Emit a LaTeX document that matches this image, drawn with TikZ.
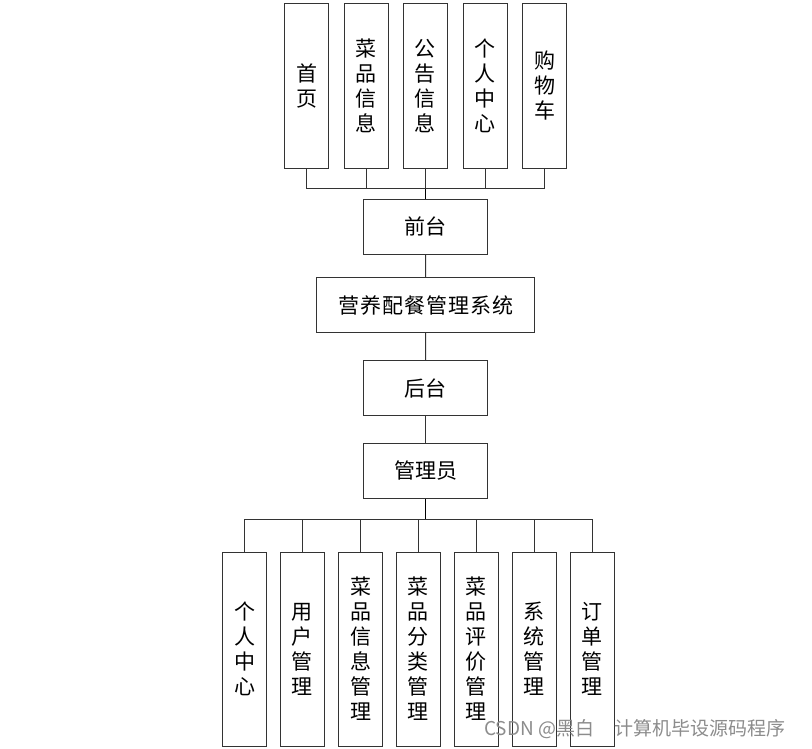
\documentclass[tikz,border=0pt]{standalone}
\usepackage{fontspec}
\setmainfont{Noto Sans CJK SC}
\newfontfamily\cjk{Noto Sans CJK SC}
\begin{document}
\begin{tikzpicture}[x=1pt,y=-1pt,
  box/.style={draw=black!80,line width=1pt,fill=white,inner sep=0pt,align=center,
    font=\cjk\fontsize{21}{25}\selectfont},
  tallbox/.style={box,minimum width=44pt,minimum height=165pt},
  lowbox/.style={box,minimum width=44pt,minimum height=194pt},
  midbox/.style={box,minimum width=124pt,minimum height=55pt},
  link/.style={draw=black!80,line width=1pt},
  hub/.style={draw=black,line width=1.6pt}]
\useasboundingbox (0,0) rectangle (812,748);
% top row
\node[tallbox] (t1) at (306.5,85.7) {首\\页};
\node[tallbox] (t2) at (366.3,85.7) {菜\\品\\信\\息};
\node[tallbox] (t3) at (425.3,85.7) {公\\告\\信\\息};
\node[tallbox] (t4) at (485,85.7) {个\\人\\中\\心};
\node[tallbox] (t5) at (544.5,85.7) {购\\物\\车};
\coordinate (tb) at (425.5,188.7);
% middle column
\node[midbox] (front) at (425.5,226.8) {前台};
\node[box,minimum width=218pt,minimum height=55pt] (sys) at (425.8,305.2)
  {\addfontfeature{LetterSpace=5}营养配餐管理系统};
\node[midbox] (back) at (425.5,388.2) {后台};
\node[midbox] (admin) at (425.5,470.8) {管理员};
\coordinate (bb) at (425.5,519);
% bottom row
\node[lowbox] (b1) at (244.7,649) {个\\人\\中\\心};
\node[lowbox] (b2) at (302.3,649) {用\\户\\管\\理};
\node[lowbox] (b3) at (360.5,649) {菜\\品\\信\\息\\管\\理};
\node[lowbox] (b4) at (418.3,649) {菜\\品\\分\\类\\管\\理};
\node[lowbox] (b5) at (476.3,649) {菜\\品\\评\\价\\管\\理};
\node[lowbox] (b6) at (534.3,649) {系\\统\\管\\理};
\node[lowbox] (b7) at (592.2,649) {订\\单\\管\\理};
% connectors top
\foreach \n in {t1,t2,t3,t4,t5} \draw[link] (\n.south) |- (tb);
\draw[hub] (tb) -- (front.north);
\draw[link] (front) -- (sys);
\draw[link] (sys) -- (back);
\draw[link] (back) -- (admin);
\draw[hub] (admin.south) -- (bb);
\foreach \n in {b1,b2,b3,b4,b5,b6,b7} \draw[link] (bb) -| (\n.north);
% watermark
\node[anchor=west,text=black!45,font=\cjk\fontsize{19}{21}\selectfont,inner sep=0pt] (wm) at (484,729) {CSDN @黑白\hspace{20pt}计算机毕设源码程序};
\end{tikzpicture}
\end{document}
